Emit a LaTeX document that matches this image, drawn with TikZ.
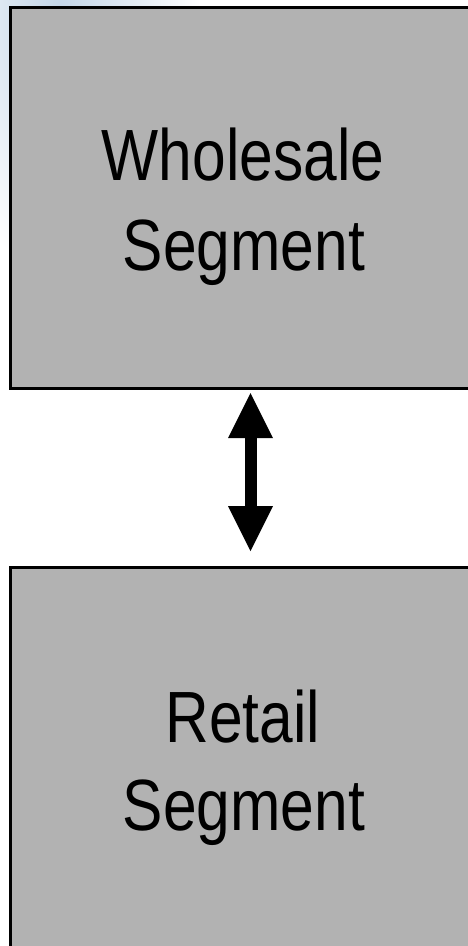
\documentclass[tikz,border=0pt]{standalone}
\usepackage{fontspec}
\setmainfont{Liberation Sans}
\usetikzlibrary{arrows.meta}
\definecolor{boxgray}{RGB}{178,178,178}
\definecolor{skyblue}{RGB}{196,214,232}
\tikzset{
  segbox/.style={draw=black, line width=3pt, fill=boxgray, rectangle, outer sep=0pt,
    minimum width=480pt, minimum height=380.5pt, inner sep=0pt},
  lbl/.style={anchor=base, inner sep=0pt, font=\fontsize{72.6}{90}\selectfont},
  dblarrow/.style={line width=12pt,
    {Triangle[width=45pt,length=45pt,line width=0pt]}-{Triangle[width=45pt,length=45pt,line width=0pt]},
    shorten <=5pt, shorten >=16.5pt}
}
\newcommand{\sq}[1]{\scalebox{0.833}[1]{#1}}
\begin{document}
\begin{tikzpicture}[x=1pt,y=-1pt]
\useasboundingbox (0,0) rectangle (468,946);
\clip (0,0) rectangle (468,946);
\fill[white] (0,0) rectangle (468,946);
\shade[inner color=skyblue, outer color=white] (60,10) ellipse (140pt and 260pt);
\node[segbox] (wb) at (250.5,197.75) {};
\node[segbox] (rb) at (250.5,757.75) {};
\node[lbl] (w1) at (243,180) {\sq{Wholesale}};
\node[lbl] (w2) at (244,270) {\sq{Segment}};
\node[lbl] (r1) at (243,742) {\sq{Retail}};
\node[lbl] (r2) at (244,830) {\sq{Segment}};
\draw[dblarrow] (wb.south) -- (rb.north);
\end{tikzpicture}
\end{document}
